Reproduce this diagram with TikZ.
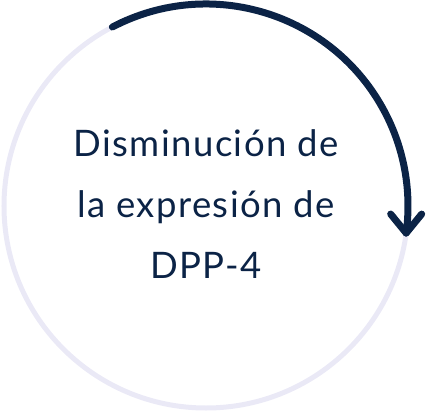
\documentclass[tikz,border=0pt]{standalone}
\usepackage{fontspec}
\setmainfont{Lato}[LetterSpace=4]
\usetikzlibrary{positioning}
\definecolor{navy}{HTML}{0B2346}
\definecolor{lavender}{HTML}{EAE9F6}

\begin{document}
\begin{tikzpicture}[x=1pt,y=1pt,
ring/.style = {draw=lavender, line width=5pt},
sweep/.style = {draw=navy, line width=7pt, line cap=round, line join=round},
caption/.style = {text=navy, font=\fontsize{36.5}{40}\selectfont, inner sep=0pt, anchor=base}]
\useasboundingbox (-206,-206) rectangle (221,206);
\draw[ring] (0,0) circle (202);

\coordinate (start) at (117.6:202);
\coordinate (tip) at (-7.7:202);
\draw[sweep] (start) arc[start angle=117.6, end angle=-7.7, radius=202];
\draw[sweep] (tip) ++(-15.5,19) -- (tip) -- ++(15.5,19);

\node[caption] (l1) at (0,49) {Disminución de};
\node[caption] (l2) at (0,-11.5) {la expresión de};
\node[caption] (l3) at (0,-72) {DPP-4};
\end{tikzpicture}
\end{document}
